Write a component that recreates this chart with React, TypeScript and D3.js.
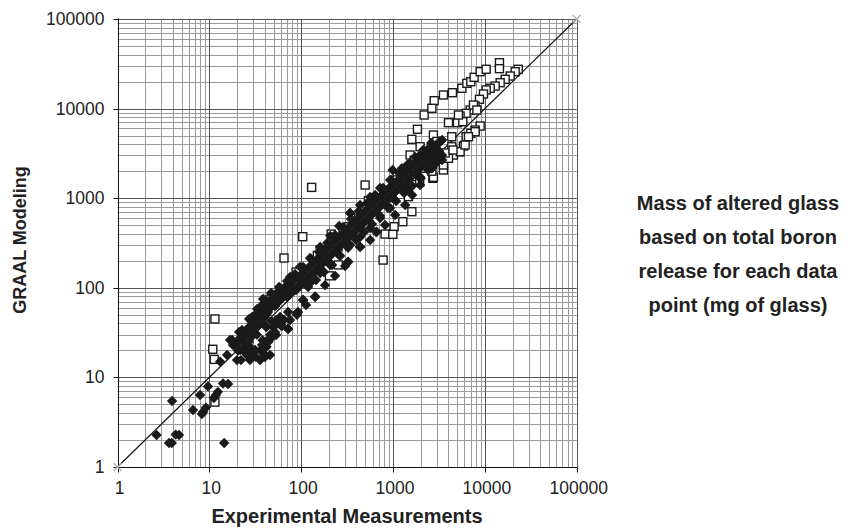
import React from "react";
import * as d3 from "d3";

// Filled diamonds series: experimental (x) vs GRAAL modeled (y)
const diamondX = [2.66,3.64,3.9,4.68,4.3,3.93,6.64,7.92,8.54,9.2,8.3,9.68,11.8,11.2,12.4,14.1,16.0,14.5,13.1,15.6,16.8,21.1,20.0,22.1,25.7,27.7,29.2,33.1,38.5,35.7,45.8,48.2,49.4,58.9,72.0,70.2,81.6,90.2,23.3,18.1,
20.5,24,26,30,32,36,40,42,44,38,28,33,46,52,55,60,65,48,
19.1,21.6,24.5,26.4,29.2,32.3,35.7,37.5,41.5,45.8,50.7,56.0,62.0,68.4,75.7,83.7,92.5,102,113,125,138,153,169,187,207,228,252,279,308,341,377,417,460,509,564,622,689,761,841,929,1028,1137,1257,1390,1535,1698,1875,2075,2296,2535,2805,3100,3428,
41.5,53.3,72.0,105,142,182,234,301,324,438,564,655,820,1054,1355,1615,1972,1972,2667,3428,2648,3404,1972,2535,2754,3258,1390,1355,2000,665,325,438,341,1250,2648,42,90,142,72,105,
75.7,97,125,161,207,259,341,438,564,723,929,991,1535,1972,2535,
58.9,75.7,97,125,161,207,259,341,438,564,723,929,991,1535,1972,2535,3258,
17.7,20.6,23.9,27.7,32.3,37.5,43.6,52,62,75.7,88,
24.5,31.5,37.5,43.6,53.3,62,75.7,92.5,113,27.7,40.4,
21.7,24.5,27.8,29.9,33.1,36.6,40.5,42.5,47.1,51.9,57.5,63.5,70.3,77.6,85.8,94.9,105,116,128,142,156,173,192,212,235,259,286,316,349,387,428,473,522,577,640,705,781,863,954,1053,1166,1289,1425,1576,1741,1926,2126,2353,2604,2875,3181,
22.7,27.1,33.1,38.5,47,57.5,70.2,85.7,105,128,157,192,234,286,349,426,523,639,780,953,1165,1423,1738,2128,2600,
119,145,177,217,266,324,396,484,591,725,885,1081,1321,1615,1973,2409,2950];
const diamondY = [2.28,1.85,1.85,2.28,2.3,5.45,4.33,6.36,4.11,4.6,3.9,7.91,6.36,5.89,6.9,8.55,8.44,1.85,15.0,17.8,26.1,32.1,15.6,15.6,17.8,21.8,47.2,52.3,61.1,15.6,17.8,28.2,36.5,47.2,34.7,78.9,99.5,52.3,20.2,23.0,
20,24,22,19,17,20,18,22,25,26,28,30,30,32,40,38,44,42,
23.0,27.5,31.3,35.6,41.5,46.0,53.7,64.3,69.5,73.1,81.0,89.8,94.5,105,110,122,132,143,158,175,194,215,232,264,293,324,360,398,442,490,542,601,667,738,818,907,1005,1086,1204,1335,1479,1597,1770,1961,2173,2410,2669,2884,3194,3452,3827,4131,4465,
36.5,43.7,53.7,73.1,78.9,107,136,175,194,285,341,420,502,650,839,1086,1403,1725,2173,2669,2158,3035,2884,3194,3757,4272,2065,1235,1668,423,196,288,684,2158,3452,36.7,50,80,35,73,
132,171,215,285,380,490,684,839,1030,1300,1597,2065,2480,3035,3727,
73.1,87,105,113,146,180,232,300,369,465,601,778,1005,1300,1668,2173,2788,
26.1,24.8,29,33.8,37.5,46,53.7,62.6,77,89.8,94.5,
19.2,20.2,23,26.1,29.7,37.5,43.7,53.7,64.3,15.6,16.9,
20.2,24.2,27.5,31.3,36.5,40.5,47.3,56.6,61.2,64.3,71.3,79,83.2,92.4,96.8,107,116,126,139,154,171,189,204,232,258,285,317,350,389,431,477,529,587,649,720,798,884,956,1060,1175,1302,1405,1558,1726,1912,2121,2349,2538,2811,3038,3368,
33.8,44.8,58,75,87.5,102,119,143,171,210,251,316,389,477,585,720,883,1085,1300,1597,1912,2347,2883,3450,4133,
102,122,150,180,227,279,342,420,516,633,778,932,1145,1370,1682,2066,2472];

// Open squares series: experimental (x) vs GRAAL modeled (y)
const squareX = [65,11.5,10.9,11.3,26.9,41,47,42,11.5,104,212,130,203,254,497,540,820,1028,1279,1603,1472,1355,2715,1603,1845,2183,2805,3540,4436,5613,6365,7036,7640,8888,10330,14420,14400,23100,21390,18870,16640,14680,12950,11430,10330,9660,8730,7834,6918,6252,5380,5031,4018,8888,7834,7036,6252,5843,5280,4550,4366,3540,2754,2754,1972,1535,1742,2143,3540,4018,4366,5380,6100,7834,6627,5754,5152,7510,8180,780,995,2648,
60,150,300,420,700,1100,2300,3000,2100,330,170,286,367,252,161,88,1700,2250,3000,3700,4500,1950,2650];
const squareY = [215,44.9,20.6,15.9,27.0,73,75,55,5.3,372,398,1320,136,180,1403,938,398,481,547,707,1040,1368,1668,4540,5875,8483,12250,14190,15040,16870,19150,19950,22350,25810,27460,32510,27900,27460,25810,23100,21230,19450,17860,16870,16140,14560,12700,10690,9643,8863,8266,6962,6962,6392,5768,5297,4856,3827,3303,3035,4856,2065,1711,5070,3757,3035,1738,2158,2349,2788,3757,3303,3927,5521,4856,7141,8483,10970,9643,204,395,10080,
85,230,420,600,1000,1600,3300,4300,2600,480,250,409,477,285,264,150,2650,2450,2900,3200,3450,1500,2000];

const tickVals = [1, 10, 100, 1000, 10000, 100000];
const tickLabels = ["1", "10", "100", "1000", "10000", "100000"];
const noteLines = ["Mass of altered glass", "based on total boron", "release for each data", "point (mg of glass)"];

export default function App() {
  const W = 850, H = 530;
  const x = d3.scaleLog().domain([1, 1e5]).range([117.5, 576.7]);
  const y = d3.scaleLog().domain([1, 1e5]).range([467, 19]);
  const px = (v: number) => Math.round(x(v)) + 0.5;
  const py = (v: number) => Math.round(y(v)) + 0.5;

  const minor: number[] = [];
  for (let e = 0; e < 5; e++) for (let k = 2; k <= 9; k++) minor.push(k * Math.pow(10, e));

  const font = "Arial, 'Liberation Sans', Helvetica, sans-serif";
  const diamonds = diamondX.map((d, i) => [d, diamondY[i]]);
  const squares = squareX.map((d, i) => [d, squareY[i]]);
  const line = d3.line<number>().x((d) => x(d)).y((d) => y(d));

  return (
    <svg width={W} height={H} style={{ position: "absolute", left: 0, top: 0, background: "#fff" }} fontFamily={font}>
      <rect width={W} height={H} fill="#fff" />
      {minor.map((v) => (
        <g key={"m" + v}>
          <line x1={px(v)} x2={px(v)} y1={y(1e5)} y2={y(1)} stroke="#9a9a9a" strokeWidth={1} />
          <line x1={x(1)} x2={x(1e5)} y1={py(v)} y2={py(v)} stroke="#9a9a9a" strokeWidth={1} />
        </g>
      ))}
      {tickVals.map((v) => (
        <g key={"M" + v}>
          <line x1={px(v)} x2={px(v)} y1={y(1e5)} y2={y(1)} stroke="#555" strokeWidth={1} />
          <line x1={x(1)} x2={x(1e5)} y1={py(v)} y2={py(v)} stroke="#555" strokeWidth={1} />
        </g>
      ))}
      <line x1={px(1)} x2={px(1)} y1={y(1e5) - 0.5} y2={py(1)} stroke="#111" strokeWidth={1} />
      <line x1={px(1)} x2={x(1e5) + 0.5} y1={py(1)} y2={py(1)} stroke="#111" strokeWidth={1} />
      {tickVals.map((v, i) => (
        <g key={"t" + v}>
          <line x1={px(1) - 5} x2={px(1)} y1={py(v)} y2={py(v)} stroke="#111" />
          <line x1={px(v)} x2={px(v)} y1={py(1)} y2={py(1) + 5} stroke="#111" />
          <text x={104.5} y={y(v) + 6} textAnchor="end" fontSize={17.5} fill="#222">{tickLabels[i]}</text>
          <text x={x(v) + 2} y={494} textAnchor="middle" fontSize={17.5} fill="#222">{tickLabels[i]}</text>
        </g>
      ))}
      <path d={line([1, 1e5]) || ""} stroke="#111" strokeWidth={1.2} fill="none" />
      {[1, 1e5].map((v) => (
        <g key={"x" + v} stroke="#b0b0b0" strokeWidth={1.2}>
          <line x1={x(v) - 4} x2={x(v) + 4} y1={y(v) - 4} y2={y(v) + 4} />
          <line x1={x(v) - 4} x2={x(v) + 4} y1={y(v) + 4} y2={y(v) - 4} />
        </g>
      ))}
      {squares.map((d, i) => (
        <rect key={"s" + i} x={x(d[0]) - 4} y={y(d[1]) - 4} width={8} height={8} fill="#fff" stroke="#1a1a1a" strokeWidth={1.4} />
      ))}
      {diamonds.map((d, i) => (
        <path key={"d" + i} transform={`translate(${x(d[0])},${y(d[1])})`} d="M0,-5.2L5.2,0L0,5.2L-5.2,0Z" fill="#1a1a1a" />
      ))}
      <text x={347} y={523} textAnchor="middle" fontSize={20} fontWeight="bold" fill="#222">Experimental Measurements</text>
      <text transform="translate(26,240) rotate(-90)" textAnchor="middle" fontSize={18} fontWeight="bold" fill="#222">GRAAL Modeling</text>
      {noteLines.map((t, i) => (
        <text key={t} x={738} y={210 + i * 34} textAnchor="middle" fontSize={20} fontWeight="bold" fill="#222">{t}</text>
      ))}
    </svg>
  );
}
